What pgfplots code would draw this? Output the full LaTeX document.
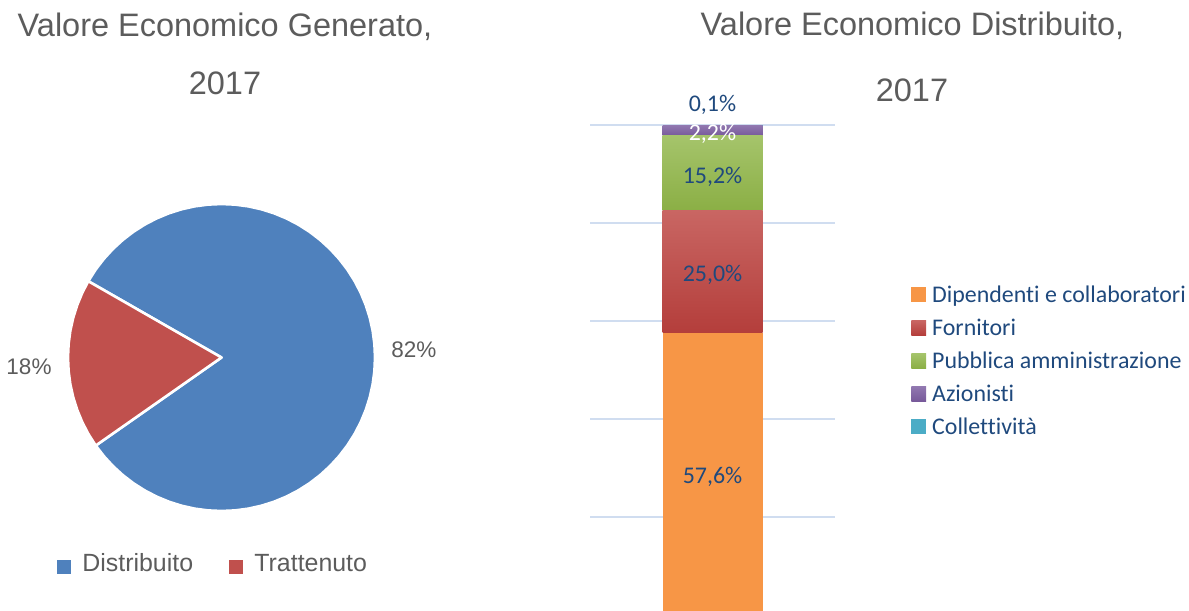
\documentclass[border=0pt]{standalone}
\usepackage{pgfplots}
\pgfplotsset{compat=1.18}
\usepgfplotslibrary{polar}
\usepackage{fontspec}
\setmainfont{Liberation Sans}
\newfontfamily\carlito[Ligatures=NoCommon]{Carlito}
\definecolor{txtgray}{HTML}{5C5C5C}
\definecolor{pieblue}{HTML}{4F81BD}
\definecolor{piered}{HTML}{C0504D}
\definecolor{labblue}{HTML}{1F497D}
\definecolor{gridc}{HTML}{D0DDF0}
\definecolor{orangeA}{HTML}{F79646}
\definecolor{redTop}{HTML}{C96663}
\definecolor{redBot}{HTML}{B43E3B}
\definecolor{greenTop}{HTML}{A5C46B}
\definecolor{greenBot}{HTML}{8BAF45}
\definecolor{purpTop}{HTML}{9178B0}
\definecolor{purpBot}{HTML}{77599A}
\definecolor{tealA}{HTML}{4BACC6}
\begin{document}
\begin{tikzpicture}
\useasboundingbox (0bp,0bp) rectangle (594.5bp,-305.5bp);
% ---------------- pie ----------------
\begin{axis}[
  at={(110.75bp,-178.75bp)}, anchor=center,
  scale only axis, width=153.5bp, height=153.5bp,
  xmin=-1, xmax=1, ymin=-1, ymax=1,
  hide axis, clip=false,
]
\addplot[data cs=polar, fill=pieblue, draw=white, line width=1.3bp, line join=round] coordinates {
(0,0) (-145,1) (-140,1) (-135,1) (-130,1) (-125,1) (-120,1) (-115,1) (-110,1) (-105,1)
(-100,1) (-95,1) (-90,1) (-85,1) (-80,1) (-75,1) (-70,1) (-65,1) (-60,1) (-55,1)
(-50,1) (-45,1) (-40,1) (-35,1) (-30,1) (-25,1) (-20,1) (-15,1) (-10,1) (-5,1)
(0,1) (5,1) (10,1) (15,1) (20,1) (25,1) (30,1) (35,1) (40,1) (45,1) (50,1) (55,1)
(60,1) (65,1) (70,1) (75,1) (80,1) (85,1) (90,1) (95,1) (100,1) (105,1) (110,1)
(115,1) (120,1) (125,1) (130,1) (135,1) (140,1) (145,1) (150.2,1) (0,0)
} --cycle;
\addplot[data cs=polar, fill=piered, draw=white, line width=1.3bp, line join=round] coordinates {
(0,0) (150.2,1) (155,1) (160,1) (165,1) (170,1) (175,1) (180,1) (185,1) (190,1)
(195,1) (200,1) (205,1) (210,1) (215,1) (0,0)
} --cycle;
\end{axis}
% ---------------- stacked bar ----------------
\begin{axis}[
  at={(295bp,-307.5bp)}, anchor=south west,
  scale only axis, width=122.5bp, height=245.49bp,
  xmin=-1, xmax=1, ymin=0, ymax=100.2,
  ybar stacked, bar width=50bp,
  ytick={0,20,40,60,80,100}, yticklabels={}, xtick=\empty,
  ymajorgrids, grid style={gridc, line width=1bp},
  axis line style={draw=none}, tick style={draw=none},
  clip mode=individual,
  legend cell align=left,
  legend image code/.code={\path[#1, draw=none] (0bp,-2.6bp) rectangle (7.4bp,4.8bp);},
  legend style={at={(1.31,0.672)}, anchor=north west, draw=none, fill=none,
    inner sep=0pt, row sep=5bp, column sep=2.4bp,
    font=\carlito\fontsize{12}{14}\selectfont, text=labblue,
    nodes={inner sep=0.6bp, text height=8bp, text depth=2.3bp}},
]
\addplot[fill=orangeA, draw=none] coordinates {(0,57.6)};
\addplot[top color=redTop, bottom color=redBot, draw=none] coordinates {(0,25.0)};
\addplot[top color=greenTop, bottom color=greenBot, draw=none] coordinates {(0,15.2)};
\addplot[top color=purpTop, bottom color=purpBot, draw=none] coordinates {(0,2.2)};
\addplot[fill=tealA, draw=none] coordinates {(0,0.1)};
\legend{Dipendenti e collaboratori, Fornitori, Pubblica amministrazione, Azionisti, Collettività}
\coordinate (l1) at (axis cs:0,28.1);
\coordinate (l2) at (axis cs:0,69.5);
\coordinate (l3) at (axis cs:0,89.4);
\coordinate (l4) at (axis cs:0,98.1);
\coordinate (l5) at (axis cs:0,104.2);
\end{axis}
\begin{scope}[font=\carlito\fontsize{12}{14}\selectfont]
\node[text=labblue] at (l1) {57,6\%};
\node[text=labblue] at (l2) {25,0\%};
\node[text=labblue] at (l3) {15,2\%};
\node[text=white] at (l4) {2,2\%};
\node[text=labblue] at (l5) {0,1\%};
\end{scope}
% ---------------- texts ----------------
\begin{scope}[x=0.5bp, y=-0.5bp]
\begin{scope}[font=\fontsize{16.3}{19}\selectfont, text=txtgray]
\node at (225,27) {Valore Economico Generato,};
\node at (225,83) {2017};
\node at (912.5,26) {Valore Economico Distribuito,};
\node at (912,90) {2017};
\end{scope}
\begin{scope}[font=\fontsize{11.3}{14}\selectfont, text=txtgray]
\node at (29,367) {18\%};
\node at (414,350) {82\%};
\end{scope}
\fill[pieblue] (57,560) rectangle (71,574);
\fill[piered] (229,560) rectangle (243,574);
\begin{scope}[font=\fontsize{12.5}{15}\selectfont, text=txtgray]
\node[anchor=base west, inner sep=0pt] at (82,572) {Distribuito};
\node[anchor=base west, inner sep=0pt] at (254,572) {Trattenuto};
\end{scope}
\end{scope}
\end{tikzpicture}
\end{document}
